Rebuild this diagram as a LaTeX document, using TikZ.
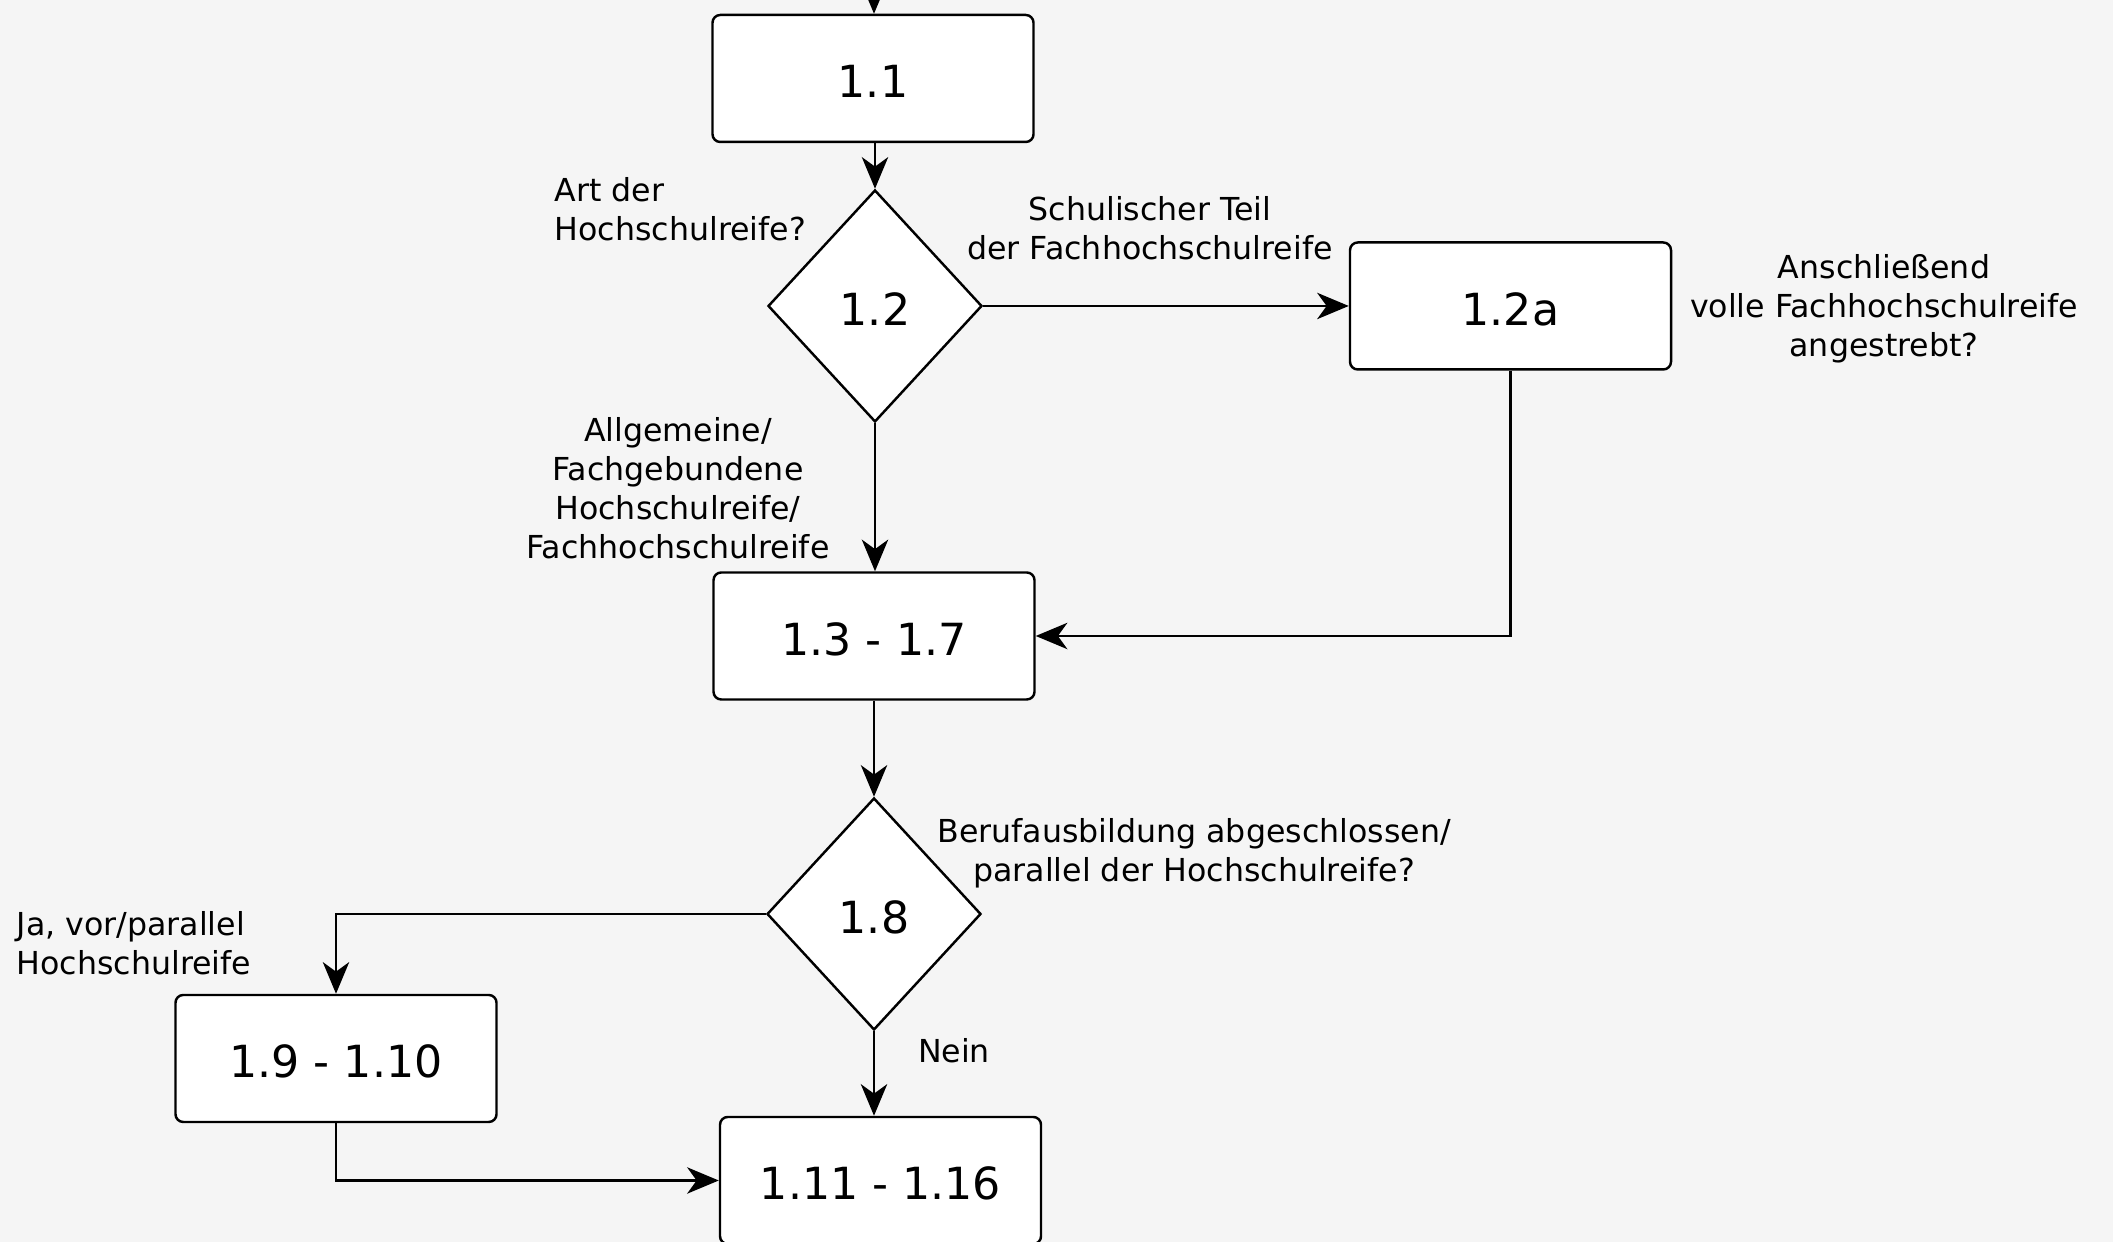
\documentclass[tikz,border=0pt]{standalone}
\usepackage{fontspec}
\setmainfont{DejaVu Sans}
\usetikzlibrary{arrows.meta}
\usetikzlibrary{shapes.geometric}

\definecolor{PaperGrey}{RGB}{245,245,245}
\definecolor{InkBlack}{RGB}{0,0,0}
\colorlet{ColourBack}{PaperGrey}
\colorlet{ColourLine}{InkBlack}

\tikzset{
  procbox/.style={draw=ColourLine, fill=white, line width=0.7pt, rounded corners=2.2pt,
    minimum width=3.21cm, minimum height=1.27cm, inner sep=0pt,
    text height=10.9pt, text depth=0pt,
    font=\fontsize{12.6pt}{15pt}\selectfont},
  decision/.style={draw=ColourLine, fill=white, line width=0.7pt, diamond, aspect=1,
    minimum width=2.14cm, minimum height=2.32cm, inner sep=0pt,
    text height=10.9pt, text depth=0pt,
    font=\fontsize{12.6pt}{15pt}\selectfont},
  remark/.style={inner sep=0pt, font=\fontsize{9pt}{11.1pt}\selectfont},
  flow/.style={ColourLine, line width=0.65pt, -{Stealth[length=9pt, width=7.5pt, inset=2.7pt]}},
}

\begin{document}
\begin{tikzpicture}

  \useasboundingbox (0,0) rectangle (21.13cm,12.42cm);
  \fill[ColourBack] (0,0) rectangle (21.13cm,12.42cm);

  \node[procbox] (n11) at (8.73cm,11.635cm) {1.1};
  \node[decision] (n12) at (8.75cm,9.36cm) {1.2};
  \node[procbox] (n12a) at (15.105cm,9.36cm) {1.2a};
  \node[procbox] (n13) at (8.74cm,6.06cm) {1.3 - 1.7};
  \node[decision] (n18) at (8.74cm,3.28cm) {1.8};
  \node[procbox] (n19) at (3.36cm,1.835cm) {1.9 - 1.10};
  \node[procbox] (n111) at (8.805cm,0.615cm) {1.11 - 1.16};

  \coordinate (entry) at (8.74cm,12.9cm);

  \draw[flow] (entry) -- (entry |- n11.north);
  \draw[flow] (n11.south -| n12.north) -- (n12.north);
  \draw[flow] (n12.east) -- (n12a.west);
  \draw[flow] (n12.south) -- (n12.south |- n13.north);
  \draw[flow] (n12a.south) |- (n13.east);
  \draw[flow] (n13.south) -- (n18.north);
  \draw[flow] (n18.west) -| (n19.north);
  \draw[flow] (n18.south) -- (n18.south |- n111.north);
  \draw[flow] (n19.south) |- (n111.west);

  \node[remark, anchor=west, align=left] (qArt) at (5.54cm,10.325cm)
    {Art der\\Hochschulreife?};
  \node[remark, align=center] (qSchul) at (11.50cm,10.135cm)
    {Schulischer Teil\\der Fachhochschulreife};
  \node[remark, align=center] (qVoll) at (18.84cm,9.33cm)
    {Anschließend\\volle Fachhochschulreife\\angestrebt?};
  \node[remark, align=center] (qAllg) at (6.78cm,7.54cm)
    {Allgemeine/\\Fachgebundene\\Hochschulreife/\\Fachhochschulreife};
  \node[remark, align=center] (qBeruf) at (11.94cm,3.885cm)
    {Berufausbildung abgeschlossen/\\parallel der Hochschulreife?};
  \node[remark, anchor=west, align=left] (qJa) at (0.16cm,2.99cm)
    {Ja, vor/parallel\\Hochschulreife};
  \node[remark] (qNein) at (9.54cm,1.91cm) {Nein};

\end{tikzpicture}
\end{document}
